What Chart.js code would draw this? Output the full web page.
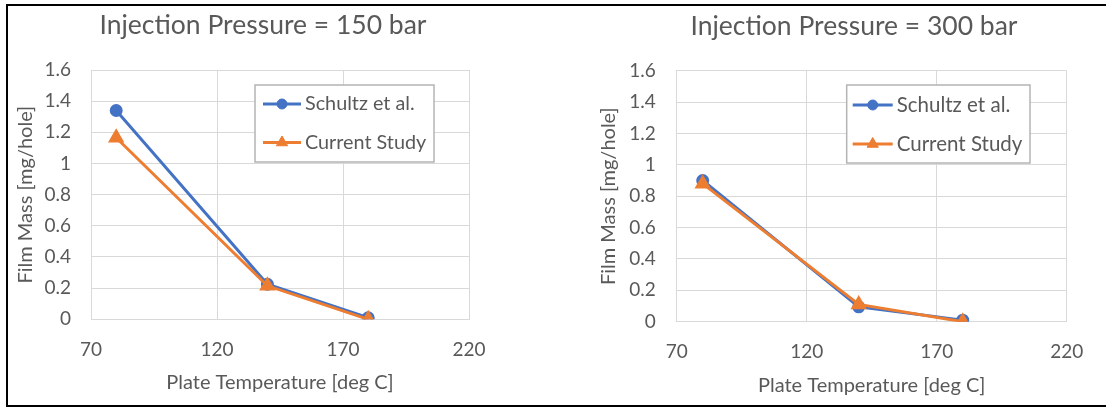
<!DOCTYPE html>
<html>
<head>
<meta charset="utf-8">
<script src="https://cdn.jsdelivr.net/npm/chart.js@4/dist/chart.umd.min.js"></script>
<style>
  html, body { margin: 0; padding: 0; background: #fff; }
  #frame { position: absolute; left: 6px; top: 4px; width: 1120px; height: 403px; box-sizing: border-box;
           border-left: 2px solid #000; border-top: 2px solid #000; border-bottom: 2px solid #000; }
  #c1 { position: absolute; left: 8px; top: 6px; }
  #c2 { position: absolute; left: 555px; top: 6px; }
</style>
</head>
<body>
<div id="frame"></div>
<canvas id="c1" width="547" height="399"></canvas>
<canvas id="c2" width="551" height="399"></canvas>
<script>
// ---- data ----
const temps = [80, 140, 180];
const schultz150 = [1.34, 0.225, 0.01];
const current150 = [1.165, 0.215, 0];
const schultz300 = [0.9, 0.095, 0.01];
const current300 = [0.88, 0.11, 0];
const seriesNames = ['Schultz et al.', 'Current Study'];
const titles = ['Injection Pressure = 150 bar', 'Injection Pressure = 300 bar'];
const xAxisTitle = 'Plate Temperature [deg C]';
const yAxisTitle = 'Film Mass [mg/hole]';
const xMin = 70, xMax = 220, xStep = 50;
const yMin = 0, yMax = 1.6, yStep = 0.2;

const FONT = 'Lato, "Open Sans", sans-serif';
const TXT = '#595959';
const BLUE = '#4472C4';
const ORANGE = '#ED7D31';
const GRID = '#d9d9d9';

const fixedTitle = {
  id: 'fixedTitle',
  afterDraw(chart, args, o) {
    const ctx = chart.ctx;
    ctx.save();
    ctx.font = o.size + 'px ' + FONT;
    ctx.fillStyle = TXT;
    ctx.textAlign = 'center';
    ctx.textBaseline = 'middle';
    ctx.fillText(o.text, o.x, o.y);
    ctx.restore();
  }
};

const boxLegend = {
  id: 'boxLegend',
  afterDatasetsDraw(chart, args, o) {
    const ctx = chart.ctx;
    ctx.save();
    ctx.fillStyle = '#fff';
    ctx.fillRect(o.x, o.y, o.w, o.h);
    ctx.strokeStyle = '#b4b4b4';
    ctx.lineWidth = 1.5;
    ctx.strokeRect(o.x, o.y, o.w, o.h);
    chart.data.datasets.forEach((ds, i) => {
      const cy = o.y + o.rows[i];
      ctx.strokeStyle = ds.borderColor;
      ctx.lineWidth = ds.borderWidth;
      ctx.beginPath();
      ctx.moveTo(o.x + o.l0, cy);
      ctx.lineTo(o.x + o.l1, cy);
      ctx.stroke();
      ctx.fillStyle = ds.backgroundColor;
      ctx.strokeStyle = ds.borderColor;
      ctx.lineWidth = 1;
      Chart.helpers.drawPoint(ctx, {pointStyle: ds.pointStyle, radius: ds.pointRadius, rotation: 0, borderWidth: 1},
        o.x + (o.l0 + o.l1) / 2, cy);
      ctx.fillStyle = TXT;
      ctx.font = o.size + 'px ' + FONT;
      ctx.textAlign = 'left';
      ctx.textBaseline = 'middle';
      ctx.fillText(ds.label, o.x + o.tx, cy);
    });
    ctx.restore();
  }
};

function pts(ys) { return temps.map((t, i) => ({x: t, y: ys[i]})); }

function makeChart(id, title, sVals, cVals, g) {
  return new Chart(document.getElementById(id), {
    type: 'line',
    data: {
      datasets: [
        {label: seriesNames[0], data: pts(sVals), borderColor: BLUE, backgroundColor: BLUE,
         pointStyle: 'circle', pointRadius: 5, pointHoverRadius: 5, borderWidth: 3, order: 1},
        {label: seriesNames[1], data: pts(cVals), borderColor: ORANGE, backgroundColor: ORANGE,
         pointStyle: 'triangle', pointRadius: 6.5, pointHoverRadius: 6.5, borderWidth: 3, order: 0}
      ]
    },
    options: {
      responsive: false,
      animation: false,
      devicePixelRatio: 1,
      layout: {padding: {top: g.top, right: g.right, left: 0, bottom: 0}},
      plugins: {
        legend: {display: false},
        tooltip: {enabled: false},
        fixedTitle: {text: title, x: g.tx, y: g.ty, size: g.tsize},
        boxLegend: g.legend
      },
      scales: {
        x: {
          type: 'linear', min: xMin, max: xMax,
          afterFit: s => { s.height = g.xh; },
          grid: {color: GRID, drawTicks: false},
          border: {color: GRID},
          ticks: {stepSize: xStep, color: TXT, font: {family: FONT, size: g.tick}, padding: g.xpad},
          title: {display: true, text: xAxisTitle, color: TXT, font: {family: FONT, size: g.atitle},
                  padding: {top: 0, bottom: g.xtb}}
        },
        y: {
          min: yMin, max: yMax,
          afterFit: s => { s.width = g.yw; },
          grid: {color: GRID, drawTicks: false},
          border: {color: GRID},
          ticks: {stepSize: yStep, color: TXT, font: {family: FONT, size: g.tick}, padding: g.ypad,
                  callback: v => String(+v.toFixed(1))},
          title: {display: true, text: yAxisTitle, color: TXT, font: {family: FONT, size: g.atitle},
                  padding: {top: g.ytp, bottom: 0}}
        }
      }
    },
    plugins: [fixedTitle, boxLegend]
  });
}

makeChart('c1', titles[0], schultz150, current150, {
  top: 64, right: 86, tx: 255, ty: 19, tsize: 26.5,
  xh: 85.7, xpad: 19, xtb: 10, yw: 83, ypad: 20, ytp: 6, tick: 19, atitle: 20,
  legend: {x: 247, y: 79, w: 179, h: 77, l0: 8, l1: 46, tx: 50, rows: [19, 57.5], size: 19.8}
});
makeChart('c2', titles[1], schultz300, current300, {
  top: 64.7, right: 39.3, tx: 299, ty: 20, tsize: 26.5,
  xh: 83.3, xpad: 19, xtb: 7, yw: 121.7, ypad: 21, ytp: 42, tick: 19, atitle: 20,
  legend: {x: 291.7, y: 79, w: 183.3, h: 78, l0: 6, l1: 46, tx: 50, rows: [20, 59], size: 20.5}
});
</script>
</body>
</html>
